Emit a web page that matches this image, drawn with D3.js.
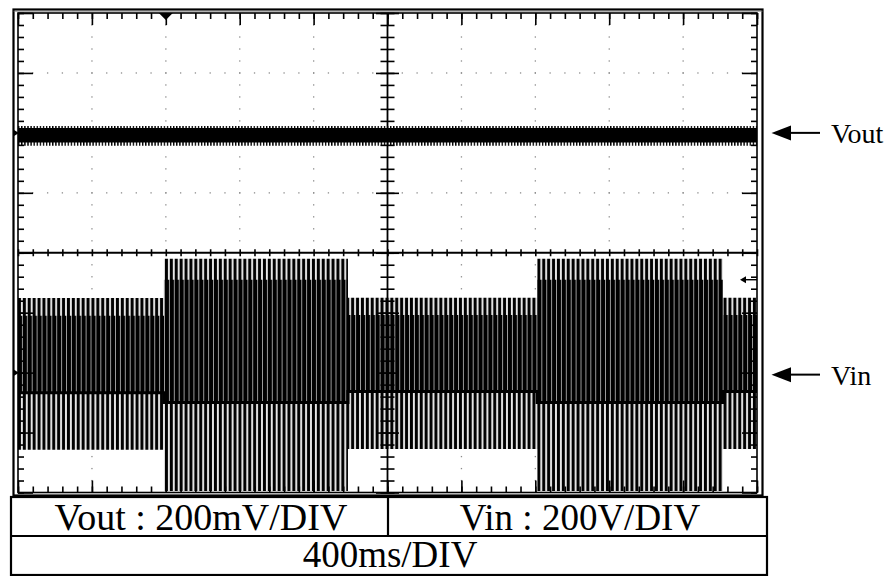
<!DOCTYPE html>
<html><head><meta charset="utf-8">
<script src="https://cdn.jsdelivr.net/npm/d3@7"></script>
<style>body{margin:0;background:#fff}svg{display:block}</style>
</head><body><svg id="c" width="896" height="576"></svg>
<script>
// ---------------- data ----------------
const timeDivMs = 400;      // 400ms/DIV
const voutDivMv = 200;      // Vout : 200mV/DIV
const vinDivV = 200;        // Vin : 200V/DIV
const nDivX = 10, nDivY = 8;
const voutOffsetDiv = 2;    // Vout ground marker, divisions above centre
const vinOffsetDiv = -2;    // Vin ground marker, divisions below centre
// Vin AC trace: envelope segments (time in ms, voltage in V)
const segStart  = [0, 790, 1786, 2810, 3816];
const segEnd    = [790, 1786, 2810, 3816, 4000];
const vinPeakHi = [249, 380, 250, 380, 250];
const vinPeakLo = [-257, -395, -255, -395, -255];
const vinCoreHi = [190, 310, 192, 310, 192];
const vinCoreLo = [-67, -100, -63, -100, -63];
// Vout trace: ripple band (mV)
const voutTime   = [0, 4000];
const voutHi     = [23, 23];
const voutLo     = [-43, -43];
const voutCoreHi = [16, 16];
const voutCoreLo = [-32, -32];
// markers
const triggerTimeMs = 800;
const vinTriggerLevelV = 310;
// text
const traceLabels = ["Vout", "Vin"];
const scaleLabels = ["Vout : " + voutDivMv + "mV/DIV", "Vin : " + vinDivV + "V/DIV", timeDivMs + "ms/DIV"];

// ---------------- layout ----------------
const svg = d3.select("#c");
const gx0 = 18, gx1 = 757, gy0 = 13, gy1 = 492.5;
const x = d3.scaleLinear().domain([0, nDivX * timeDivMs]).range([gx0, gx1]);
const yDiv = d3.scaleLinear().domain([-nDivY / 2, nDivY / 2]).range([gy1, gy0]);
const yVout = d3.scaleLinear()
  .domain([(-nDivY / 2 - voutOffsetDiv) * voutDivMv, (nDivY / 2 - voutOffsetDiv) * voutDivMv]).range([gy1, gy0]);
const yVin = d3.scaleLinear()
  .domain([(-nDivY / 2 - vinOffsetDiv) * vinDivV, (nDivY / 2 - vinOffsetDiv) * vinDivV]).range([gy1, gy0]);

svg.append("rect").attr("width", 896).attr("height", 576).attr("fill", "#fff");

// patterns
const defs = svg.append("defs");
function stripes(id, period, parts) {
  const p = defs.append("pattern").attr("id", id).attr("patternUnits", "userSpaceOnUse")
    .attr("x", gx0).attr("y", 0).attr("width", period).attr("height", 20);
  p.append("rect").attr("width", period).attr("height", 20).attr("fill", "#fff");
  parts.forEach(([x0, w, c]) => p.append("rect").attr("x", x0).attr("width", w).attr("height", 20).attr("fill", c));
}
stripes("envPat", 4.9, [[0, 2.9, "#000"], [3.7, 0.6, "#a0a0a0"]]);
stripes("corePat", 4.9, [[0, 4.2, "#000"], [4.2, 0.7, "#909090"]]);
stripes("fringePat", 3.1, [[0, 1.4, "#000"]]);

const clip = defs.append("clipPath").attr("id", "scr");
clip.append("rect").attr("x", gx0).attr("y", gy0).attr("width", gx1 - gx0).attr("height", gy1 - gy0);

// graticule dots
const gDots = svg.append("g").attr("fill", "#8c8c8c");
d3.range(1, nDivX).filter(k => k !== nDivX / 2).forEach(k => {
  d3.range(-nDivY / 2 * 5 + 1, nDivY / 2 * 5).forEach(j => {
    gDots.append("rect").attr("x", x(k * timeDivMs) - 0.6).attr("y", yDiv(j / 5) - 0.6).attr("width", 1.3).attr("height", 1.3);
  });
});
d3.range(-nDivY / 2 + 1, nDivY / 2).filter(j => j !== 0).forEach(j => {
  d3.range(1, nDivX * 5).forEach(k => {
    gDots.append("rect").attr("x", x(k * timeDivMs / 5) - 0.6).attr("y", yDiv(j) - 0.6).attr("width", 1.3).attr("height", 1.3);
  });
});

// ---------------- traces ----------------
const gTr = svg.append("g").attr("clip-path", "url(#scr)");
const segPts = (hi, lo) => segStart.flatMap((s, i) => [
  { t: s, hi: hi[i], lo: lo[i] }, { t: segEnd[i], hi: hi[i], lo: lo[i] }]);
const vinArea = d3.area().x(d => x(d.t)).y0(d => yVin(d.lo)).y1(d => yVin(d.hi));
gTr.append("path").attr("d", vinArea(segPts(vinPeakHi, vinPeakLo))).attr("fill", "url(#envPat)");
gTr.append("path").attr("d", vinArea(segPts(vinCoreHi, vinCoreLo))).attr("fill", "url(#corePat)");
const coreLoLine = d3.line().x(d => x(d.t)).y(d => yVin(d.lo));
gTr.append("path").attr("d", coreLoLine(segPts(vinCoreHi, vinCoreLo))).attr("fill", "none")
  .attr("stroke", "#000").attr("stroke-width", 3);

const voutPts = (hi, lo) => voutTime.map((t, i) => ({ t, hi: hi[i], lo: lo[i] }));
const voutArea = d3.area().x(d => x(d.t)).y0(d => yVout(d.lo)).y1(d => yVout(d.hi));
gTr.append("path").attr("d", voutArea(voutPts(voutHi, voutLo))).attr("fill", "url(#fringePat)");
gTr.append("path").attr("d", voutArea(voutPts(voutCoreHi, voutCoreLo))).attr("fill", "#000");

// ---------------- graticule axes & ticks ----------------
const minorT = d3.range(0, nDivX * timeDivMs + 1, timeDivMs / 5);
const majorT = d3.range(0, nDivX * timeDivMs + 1, timeDivMs);
const minorV = d3.range(-nDivY / 2, nDivY / 2 + 0.001, 0.2);
const majorV = d3.range(-nDivY / 2, nDivY / 2 + 1, 1);
function tickAxis(axis, vals, size, tx, ty) {
  const g = svg.append("g").attr("transform", `translate(${tx},${ty})`)
    .call(axis.tickValues(vals).tickSize(size).tickFormat(""));
  g.select(".domain").remove();
  g.selectAll("line").attr("stroke", "#000").attr("stroke-width", 1.6);
}
tickAxis(d3.axisBottom(x), minorT, 6, 0, gy0);
tickAxis(d3.axisBottom(x), majorT, 12, 0, gy0);
tickAxis(d3.axisTop(x), minorT, 6, 0, gy1);
tickAxis(d3.axisTop(x), majorT, 12, 0, gy1);
tickAxis(d3.axisRight(yDiv), minorV, 6, gx0, 0);
tickAxis(d3.axisRight(yDiv), majorV, 15, gx0, 0);
tickAxis(d3.axisLeft(yDiv), minorV, 6, gx1, 0);
tickAxis(d3.axisLeft(yDiv), majorV, 15, gx1, 0);
// centre cross
const cx = x(nDivX / 2 * timeDivMs), cy = yDiv(0);
tickAxis(d3.axisBottom(x), minorT, 7, 0, cy - 3.5);
tickAxis(d3.axisRight(yDiv), minorV, 14, cx - 7, 0);
tickAxis(d3.axisRight(yDiv), majorV, 23, cx - 11.5, 0);
svg.append("line").attr("x1", gx0).attr("x2", gx1).attr("y1", cy).attr("y2", cy).attr("stroke", "#000").attr("stroke-width", 1.8);
svg.append("line").attr("x1", cx).attr("x2", cx).attr("y1", gy0).attr("y2", gy1).attr("stroke", "#000").attr("stroke-width", 1.8);
// frames
svg.append("rect").attr("x", gx0).attr("y", gy0).attr("width", gx1 - gx0).attr("height", gy1 - gy0)
  .attr("fill", "none").attr("stroke", "#000").attr("stroke-width", 1.6);
svg.append("rect").attr("x", 13.5).attr("y", 9.5).attr("width", 749).attr("height", 486)
  .attr("fill", "none").attr("stroke", "#000").attr("stroke-width", 2.2);
svg.append("line").attr("x1", 13.5).attr("x2", 762.5).attr("y1", 11.2).attr("y2", 11.2).attr("stroke", "#777").attr("stroke-width", 0.8);

// markers
svg.append("path").attr("d", `M${x(triggerTimeMs) - 7},${gy0} L${x(triggerTimeMs) + 7},${gy0} L${x(triggerTimeMs)},${gy0 + 7}Z`).attr("fill", "#000");
[yVout(0), yVin(0)].forEach(yy => svg.append("path").attr("d", `M${gx0 - 4},${yy - 3} L${gx0 + 1},${yy} L${gx0 - 4},${yy + 3}Z`).attr("fill", "#000"));
const ty = yVin(vinTriggerLevelV);
svg.append("path").attr("d", `M${gx1 - 17},${ty} L${gx1 - 11},${ty - 3.5} L${gx1 - 11},${ty + 3.5}Z`).attr("fill", "#000");
svg.append("line").attr("x1", gx1 - 12).attr("x2", gx1).attr("y1", ty).attr("y2", ty).attr("stroke", "#000").attr("stroke-width", 1.4);

// ---------------- right labels ----------------
[yVout(0), yVin(0) + 2].forEach((yy, i) => {
  svg.append("path").attr("d", `M771.5,${yy} L791,${yy - 7.5} L791,${yy + 7.5}Z`).attr("fill", "#000");
  svg.append("line").attr("x1", 789).attr("x2", 820).attr("y1", yy).attr("y2", yy).attr("stroke", "#000").attr("stroke-width", 2);
  svg.append("text").attr("x", 831).attr("y", yy + 10).text(traceLabels[i])
    .attr("font-family", "Liberation Serif, Times New Roman, serif").attr("font-size", 28).attr("fill", "#000");
});

// ---------------- bottom table ----------------
const tb = svg.append("g").attr("fill", "none").attr("stroke", "#000").attr("stroke-width", 2.2);
tb.append("rect").attr("x", 11).attr("y", 497).attr("width", 756).attr("height", 78);
tb.append("line").attr("x1", 11).attr("x2", 767).attr("y1", 536).attr("y2", 536);
tb.append("line").attr("x1", 388).attr("x2", 388).attr("y1", 497).attr("y2", 536);
const cells = [[201, 530, 38], [580, 530, 37], [390, 567, 37]];
cells.forEach(([tx, tyy, fs], i) => svg.append("text").attr("x", tx).attr("y", tyy).attr("text-anchor", "middle")
  .attr("font-family", "Liberation Serif, Times New Roman, serif").attr("font-size", fs).attr("fill", "#000")
  .text(scaleLabels[i]));
</script></body></html>
